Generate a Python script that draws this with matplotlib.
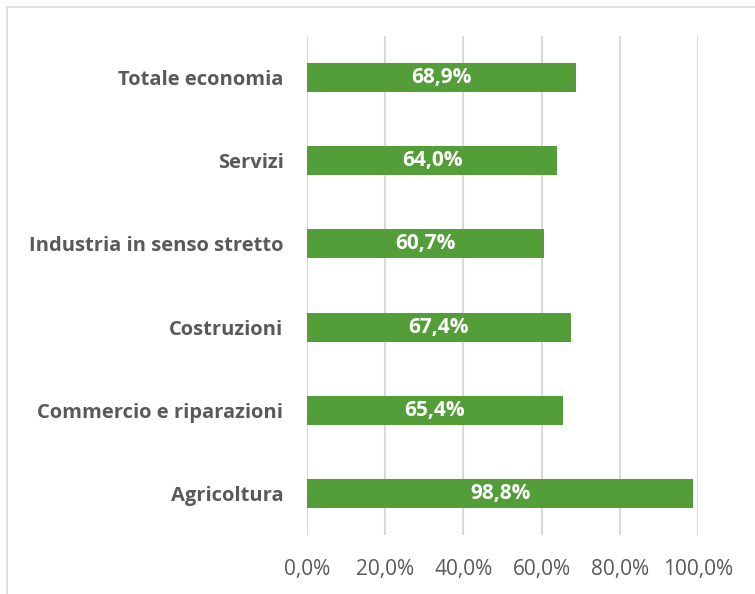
import matplotlib.pyplot as plt
from matplotlib.patches import Rectangle

categories = ["Totale economia", "Servizi", "Industria in senso stretto",
              "Costruzioni", "Commercio e riparazioni", "Agricoltura"]
values = [68.9, 64.0, 60.7, 67.4, 65.4, 98.8]
ticks = [0, 20, 40, 60, 80, 100]
tick_labels = ["0,0%", "20,0%", "40,0%", "60,0%", "80,0%", "100,0%"]

green = "#549E39"
grey = "#595959"

plt.rcParams['font.family'] = ['Open Sans', 'DejaVu Sans']

fig = plt.figure(figsize=(7.55, 5.94), dpi=100)
ax = fig.add_axes([0.4066, 0.0993, 0.9245 - 0.4066, 0.9394 - 0.0993])

# chart frame
fig.patches.append(Rectangle((7 / 755, -0.1), 1.1, 1 - 7 / 594 + 0.1,
                             transform=fig.transFigure, fill=False,
                             edgecolor="#D9D9D9", linewidth=1.2))

pos = list(range(len(categories)))
ax.barh(pos, values, height=0.35, color=green, zorder=3)
for y, v in zip(pos, values):
    ax.text(v / 2, y, f"{v:.1f}%".replace(".", ","), ha="center", va="center",
            color="white", fontsize=15, fontweight="bold", zorder=4)

ax.set_ylim(len(categories) - 0.5, -0.5)
ax.set_xlim(0, 100)
ax.set_yticks(pos)
ax.set_yticklabels(categories, fontsize=14.5, fontweight="bold", color=grey)
ax.set_xticks(ticks)
ax.set_xticklabels(tick_labels, fontsize=15, color=grey)
ax.tick_params(length=0)
ax.tick_params(axis="y", pad=17)
ax.tick_params(axis="x", pad=17)
ax.grid(axis="x", color="#D9D9D9", linewidth=1.5, zorder=0)
for s in ax.spines.values():
    s.set_visible(False)

fig.savefig("out.png", dpi=100)
